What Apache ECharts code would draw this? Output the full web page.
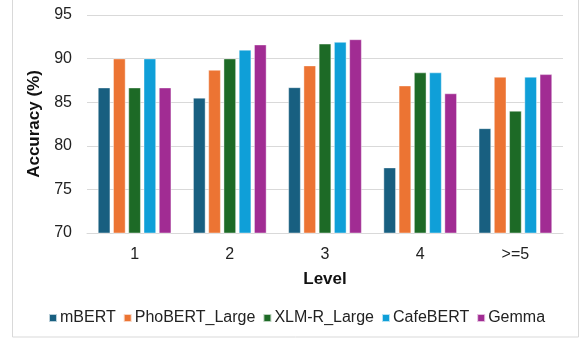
<!DOCTYPE html>
<html>
<head>
<meta charset="utf-8">
<script src="https://cdn.jsdelivr.net/npm/echarts@6/dist/echarts.min.js"></script>
<style>
html,body{margin:0;padding:0;background:#fff;}
#c{width:581px;height:342px;}
</style>
</head>
<body>
<div id="c"></div>
<script>
const categories = ['1', '2', '3', '4', '>=5'];
const seriesNames = ['mBERT', 'PhoBERT_Large', 'XLM-R_Large', 'CafeBERT', 'Gemma'];
const mBERT = [86.67, 85.5, 86.7, 77.5, 82.0];
const phoBERT = [90.0, 88.7, 89.2, 86.9, 87.9];
const xlmr = [86.67, 90.0, 91.7, 88.4, 84.0];
const cafeBERT = [90.0, 91.0, 91.9, 88.4, 87.9];
const gemma = [86.67, 91.6, 92.2, 86.0, 88.2];
const colors = ['#185f80', '#ec7433', '#1d6a26', '#0f9fd8', '#a12c93'];

const values = [mBERT, phoBERT, xlmr, cafeBERT, gemma];
const font = '"Liberation Sans", Arial, sans-serif';

const chart = echarts.init(document.getElementById('c'), null, {renderer: 'canvas'});
chart.setOption({
  animation: false,
  color: colors,
  textStyle: {fontFamily: font},
  graphic: [{
    type: 'rect',
    shape: {x: 12.5, y: -5, width: 566, height: 342},
    style: {fill: 'none', stroke: '#d9d9d9', lineWidth: 1},
    silent: true
  }],
  grid: {left: 87, right: 18, top: 15, bottom: 109, containLabel: false},
  legend: {
    data: seriesNames,
    left: 43, top: 305,
    itemWidth: 8, itemHeight: 8, itemGap: 7,
    icon: 'rect',
    textStyle: {fontSize: 16, color: '#222', fontFamily: font, padding: [0, 0, 0, -2]}
  },
  xAxis: {
    type: 'category',
    data: categories,
    name: 'Level',
    nameLocation: 'middle',
    nameGap: 38,
    nameTextStyle: {fontSize: 17, fontWeight: 'bold', color: '#111', fontFamily: font},
    axisLine: {lineStyle: {color: '#d9d9d9'}},
    axisTick: {show: false},
    axisLabel: {fontSize: 16, color: '#222', margin: 14, fontFamily: font}
  },
  yAxis: {
    type: 'value',
    min: 70, max: 95, interval: 5,
    name: 'Accuracy (%)',
    nameLocation: 'middle',
    nameGap: 42,
    nameTextStyle: {fontSize: 17, fontWeight: 'bold', color: '#111', fontFamily: font},
    axisLine: {show: false},
    axisTick: {show: false},
    splitLine: {lineStyle: {color: '#d9d9d9'}},
    axisLabel: {fontSize: 16, color: '#222', margin: 15, fontFamily: font}
  },
  series: seriesNames.map((n, i) => ({
    name: n,
    type: 'bar',
    data: values[i],
    barGap: '24%',
    barCategoryGap: '23%',
    itemStyle: {color: colors[i], borderColor: 'rgba(255,255,255,0.7)', borderWidth: 0.6}
  }))
});
</script>
</body>
</html>
